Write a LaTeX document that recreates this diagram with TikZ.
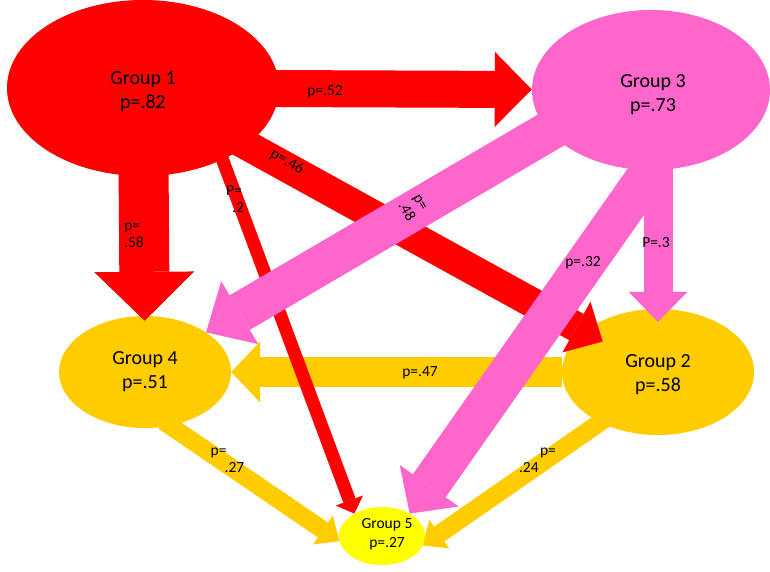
\documentclass[tikz,border=0pt]{standalone}
\usepackage{fontspec}
\setmainfont{Carlito}
\usetikzlibrary{shapes.geometric,arrows.meta}
\definecolor{grpred}{HTML}{FF0000}
\definecolor{grppink}{HTML}{FF66CC}
\definecolor{grporange}{HTML}{FFCC00}
\definecolor{grpyellow}{HTML}{FFFF00}
\tikzset{
	grp/.style={ellipse, inner sep=0pt},
	grptext/.style={inner sep=0pt, align=center, font=\fontsize{20}{24}\selectfont},
	lbl/.style={inner sep=0pt, align=left, font=\fontsize{15.5}{17}\selectfont},
	redflow/.style={draw=grpred},
	pinkflow/.style={draw=grppink},
	orangeflow/.style={draw=grporange},
}
\begin{document}
\begin{tikzpicture}[x=1pt,y=-1pt]
	\useasboundingbox (0,0) rectangle (770,571);
	% groups
	\node[grp, fill=grpred, minimum width=272pt, minimum height=176pt] (g1) at (143,88) {};
	\node[grp, fill=grppink, minimum width=238pt, minimum height=160pt] (g3) at (651,90) {};
	\node[grp, fill=grporange, minimum width=172pt, minimum height=112pt] (g4) at (145,372) {};
	\node[grp, fill=grporange, minimum width=192pt, minimum height=126pt] (g2) at (658,372) {};
	\node[grp, fill=grpyellow, minimum width=86pt, minimum height=58pt] (g5) at (382,536) {};
	% orange paths
	\draw[orangeflow, line width=30pt, -{Triangle[length=29pt,width=61pt,line width=0pt]}] (g2) -- (g4);
	\draw[orangeflow, line width=18pt, -{Triangle[length=20pt,width=35pt,line width=0pt]}, shorten <=-8pt] (g4.-65) -- (g5.187);
	\draw[orangeflow, line width=18pt, -{Triangle[length=20pt,width=35pt,line width=0pt]}, shorten <=-8pt] (g2.221) -- (g5.-13);
	% red paths
	\draw[redflow, line width=37pt, -{Triangle[length=37pt,width=75pt,line width=0pt]}, shorten <=-10pt] (g1) -- (g3);
	\draw[redflow, line width=50pt, -{Triangle[length=49pt,width=100pt,line width=0pt]}, shorten <=-10pt, shorten >=-5pt] (g1) -- (g4);
	\draw[redflow, line width=30pt, -{Triangle[length=30pt,width=58pt,line width=0pt]}, shorten <=-15pt, shorten >=-21pt] (g1) -- (g2);
	\draw[redflow, line width=13pt, -{Triangle[length=14pt,width=29pt,line width=0pt]}, shorten <=-8pt] (g1.-42) -- (g5.141);
	% pink paths
	\draw[pinkflow, line width=40pt, -{Triangle[length=39pt,width=73pt,line width=0pt]}, shorten <=-15pt] (g3.202) -- (g4.33);
	\draw[pinkflow, line width=29pt, -{Triangle[length=30pt,width=59pt,line width=0pt]}, shorten <=-10pt, shorten >=-13pt] (g2.north |- g3.south) -- (g2.north);
	\draw[pinkflow, line width=40pt, -{Triangle[length=34pt,width=72pt,line width=0pt]}, shorten <=-10pt] (g3.south) -- (g5.39);
	% group texts
	\node[grptext] (t1) at (143,92) {Group 1\\p=.82};
	\node[grptext] (t3) at (653,94.5) {Group 3\\p=.73};
	\node[grptext] (t4) at (145,372) {Group 4\\p=.51};
	\node[grptext] (t2) at (658,375) {Group 2\\p=.58};
	\node[grptext, font=\fontsize{15.5}{19}\selectfont] (t5) at (387,534) {Group 5\\p=.27};
	% path labels
	\node[lbl] (l13) at (325,92) {p=.52};
	\node[lbl] (l14) at (134,235) {p=\\.58};
	\node[lbl, rotate=-29] (l12) at (287,162) {p=.46};
	\node[lbl] (l15) at (235,199.5) {P=\\\hspace*{6pt}.2};
	\node[lbl, rotate=-60] (l34) at (413.5,208) {p=\\.48};
	\node[lbl] (l35) at (583,263) {p=.32};
	\node[lbl] (l32) at (656,243) {P=.3};
	\node[lbl] (l24) at (420,373) {p=.47};
	\node[lbl] (l45) at (227.5,460.5) {p=\\\hspace*{14pt}.27};
	\node[lbl] (l25) at (537.5,460.5) {\hspace*{21pt}p=\\.24};
\end{tikzpicture}
\end{document}
